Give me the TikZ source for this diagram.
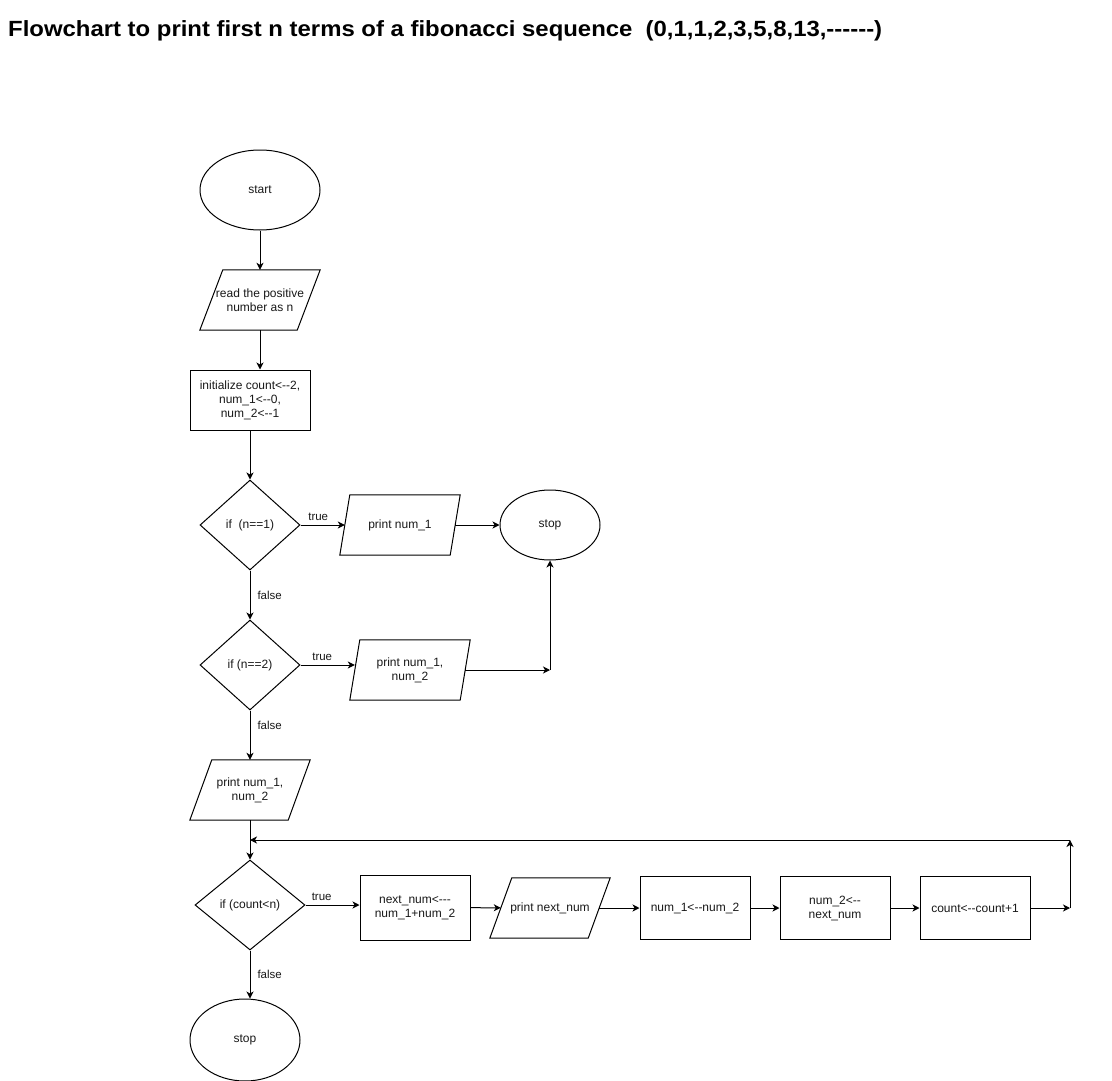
\documentclass[tikz,border=0pt]{standalone}
\usepackage{graphicx}
\usepackage{fontspec}
\setmainfont{Liberation Sans}[Ligatures=TeXOff]
\usetikzlibrary{shapes.geometric,arrows.meta}
\newcommand\drawpar[2]{\draw[line width=1pt] ([xshift=#2/2]#1.north west) -- ([xshift=#2/2]#1.north east) -- ([xshift=-#2/2]#1.south east) -- ([xshift=-#2/2]#1.south west) -- cycle;}
\begin{document}
\begin{tikzpicture}[x=1pt,y=-1pt,
  every node/.style={font=\fontsize{12}{14}\selectfont, text=black!90, inner sep=0pt, align=center},
  term/.style={draw, ellipse, line width=1pt},
  procbox/.style={draw, rectangle, line width=1pt},
  decide/.style={draw, diamond, line width=1pt},
  iobody/.style={rectangle, minimum height=60pt},
  conn/.style={line width=1pt, -{Stealth[length=7pt,width=7pt,inset=2pt]}},
  lbl/.style={font=\fontsize{11.5}{13}\selectfont}]
\useasboundingbox (0,0) rectangle (1112,1081);
\fill[white] (0,0) rectangle (1112,1081);
\node[anchor=base west, font=\fontsize{22}{26}\selectfont\bfseries, text=black] (title) at (8,37) {\resizebox{874pt}{\height}{Flowchart to print first n terms of a fibonacci sequence \ (0,1,1,2,3,5,8,13,------)}};

\node[term, minimum width=120pt, minimum height=80pt] (start) at (260,190) {start};
\node[iobody, minimum width=97pt] (read) at (260,300) {read the positive\\number as n};
\drawpar{read}{23pt}
\node[procbox, minimum width=120pt, minimum height=60pt] (init) at (250,400) {initialize count<--2,\\num\_1<--0,\\num\_2<--1};
\node[decide, minimum width=100pt, minimum height=90pt] (d1) at (250,525) {if \ (n==1)};
\node[iobody, minimum width=110pt] (p1) at (400,525) {print num\_1};
\drawpar{p1}{10pt}
\node[term, minimum width=100pt, minimum height=70pt] (stop1) at (550,525) {stop};
\node[decide, minimum width=100pt, minimum height=90pt] (d2) at (250,665) {if (n==2)};
\node[iobody, minimum width=110pt] (p2) at (410,670) {print num\_1,\\num\_2};
\drawpar{p2}{10pt}
\coordinate (j1) at (550,670);
\node[iobody, minimum width=98pt] (p3) at (250,790) {print num\_1,\\num\_2};
\drawpar{p3}{22pt}
\node[decide, minimum width=110pt, minimum height=90pt] (d3) at (250,905) {if (count<n)};
\node[procbox, minimum width=110pt, minimum height=65pt] (nx) at (415,907.5) {next\_num<---\\num\_1+num\_2};
\node[iobody, minimum width=98pt] (pn) at (550,908) {print next\_num};
\drawpar{pn}{22pt}
\node[procbox, minimum width=110pt, minimum height=63pt] (a1) at (695,908) {num\_1<--num\_2};
\node[procbox, minimum width=110pt, minimum height=63pt] (a2) at (835,908) {num\_2<--\\next\_num};
\node[procbox, minimum width=110pt, minimum height=63pt] (a3) at (975,908) {count<--count+1};
\coordinate (r1) at (1070,908);
\coordinate (r2) at (1070,840);
\coordinate (r3) at (250,840);
\node[term, minimum width=110pt, minimum height=82pt] (stop2) at (245,1040) {stop};

\draw[conn] (start) -- (read);
\draw[conn] (read.south -| 260,0) -- (init.north -| 260,0);
\draw[conn] (init) -- (d1);
\draw[conn] (d1) -- node[lbl, pos=0.4, above=4pt] {true} (p1);
\draw[conn] (p1) -- (stop1);
\draw[conn] (d1) -- node[lbl, right=7pt] {false} (d2);
\draw[conn] (d2) -- node[lbl, pos=0.4, above=4pt] {true} (d2.east -| p2.west);
\draw[conn] (p2.east) -- (j1);
\draw[conn] (j1) -- (stop1);
\draw[conn] (d2) -- node[lbl, pos=0.3, right=7pt] {false} (p3);
\draw[conn] (p3) -- (d3);
\draw[conn] (d3) -- node[lbl, pos=0.3, above=4pt] {true} (d3.east -| nx.west);
\draw[conn] (nx) -- (pn);
\draw[conn] (pn) -- (a1);
\draw[conn] (a1) -- (a2);
\draw[conn] (a2) -- (a3);
\draw[conn] (a3) -- (r1);
\draw[conn] (r1) -- (r2);
\draw[conn] (r2) -- (r3);
\draw[conn] (d3.south -| 250,0) -- node[lbl, right=7pt] {false} (stop2.north -| 250,0);
\end{tikzpicture}
\end{document}
